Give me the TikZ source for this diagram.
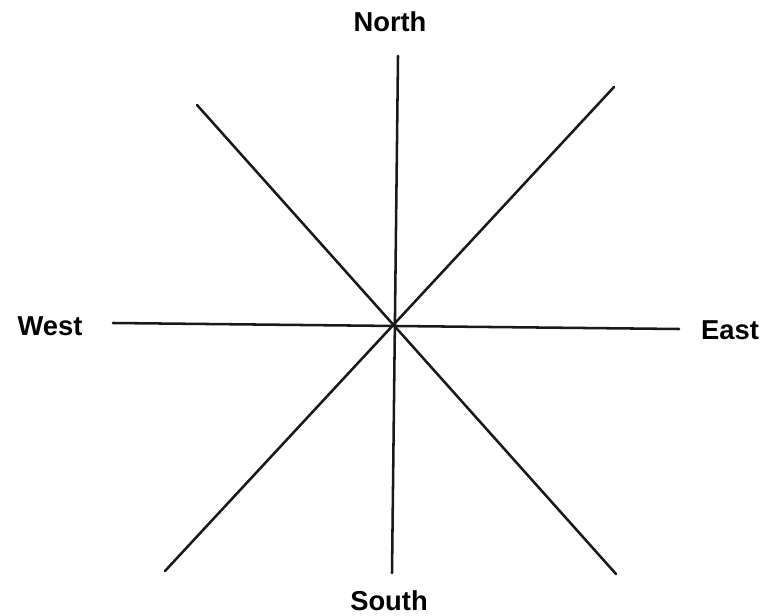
\documentclass[tikz,border=0pt]{standalone}
\usepackage{fontspec}
\setmainfont{Liberation Sans}
\usetikzlibrary{positioning}

\begin{document}
\begin{tikzpicture}[x=0.75pt, y=-0.75pt, line width=1.9pt, font=\fontsize{20.5}{24}\selectfont\bfseries]
\tikzset{dir/.style={inner sep=0pt, anchor=center}, ray/.style={draw=black!90, line cap=round}}
\useasboundingbox (0,0) rectangle (766,616);
\node[dir] (N) at (390,22) {North};
\node[dir] (S) at (389,601) {South};
\node[dir] (W) at (50,326) {West};
\node[dir] (E) at (730,330) {East};
\coordinate (n) at (398,56); \coordinate (s) at (392,573);
\coordinate (w) at (113,323); \coordinate (e) at (679,329);
\coordinate (nw) at (197,105); \coordinate (se) at (616,574);
\coordinate (ne) at (614,87); \coordinate (sw) at (165,571);
\draw[ray] (n) -- (s); \draw[ray] (w) -- (e);
\draw[ray] (nw) -- (se); \draw[ray] (ne) -- (sw);
\end{tikzpicture}
\end{document}
